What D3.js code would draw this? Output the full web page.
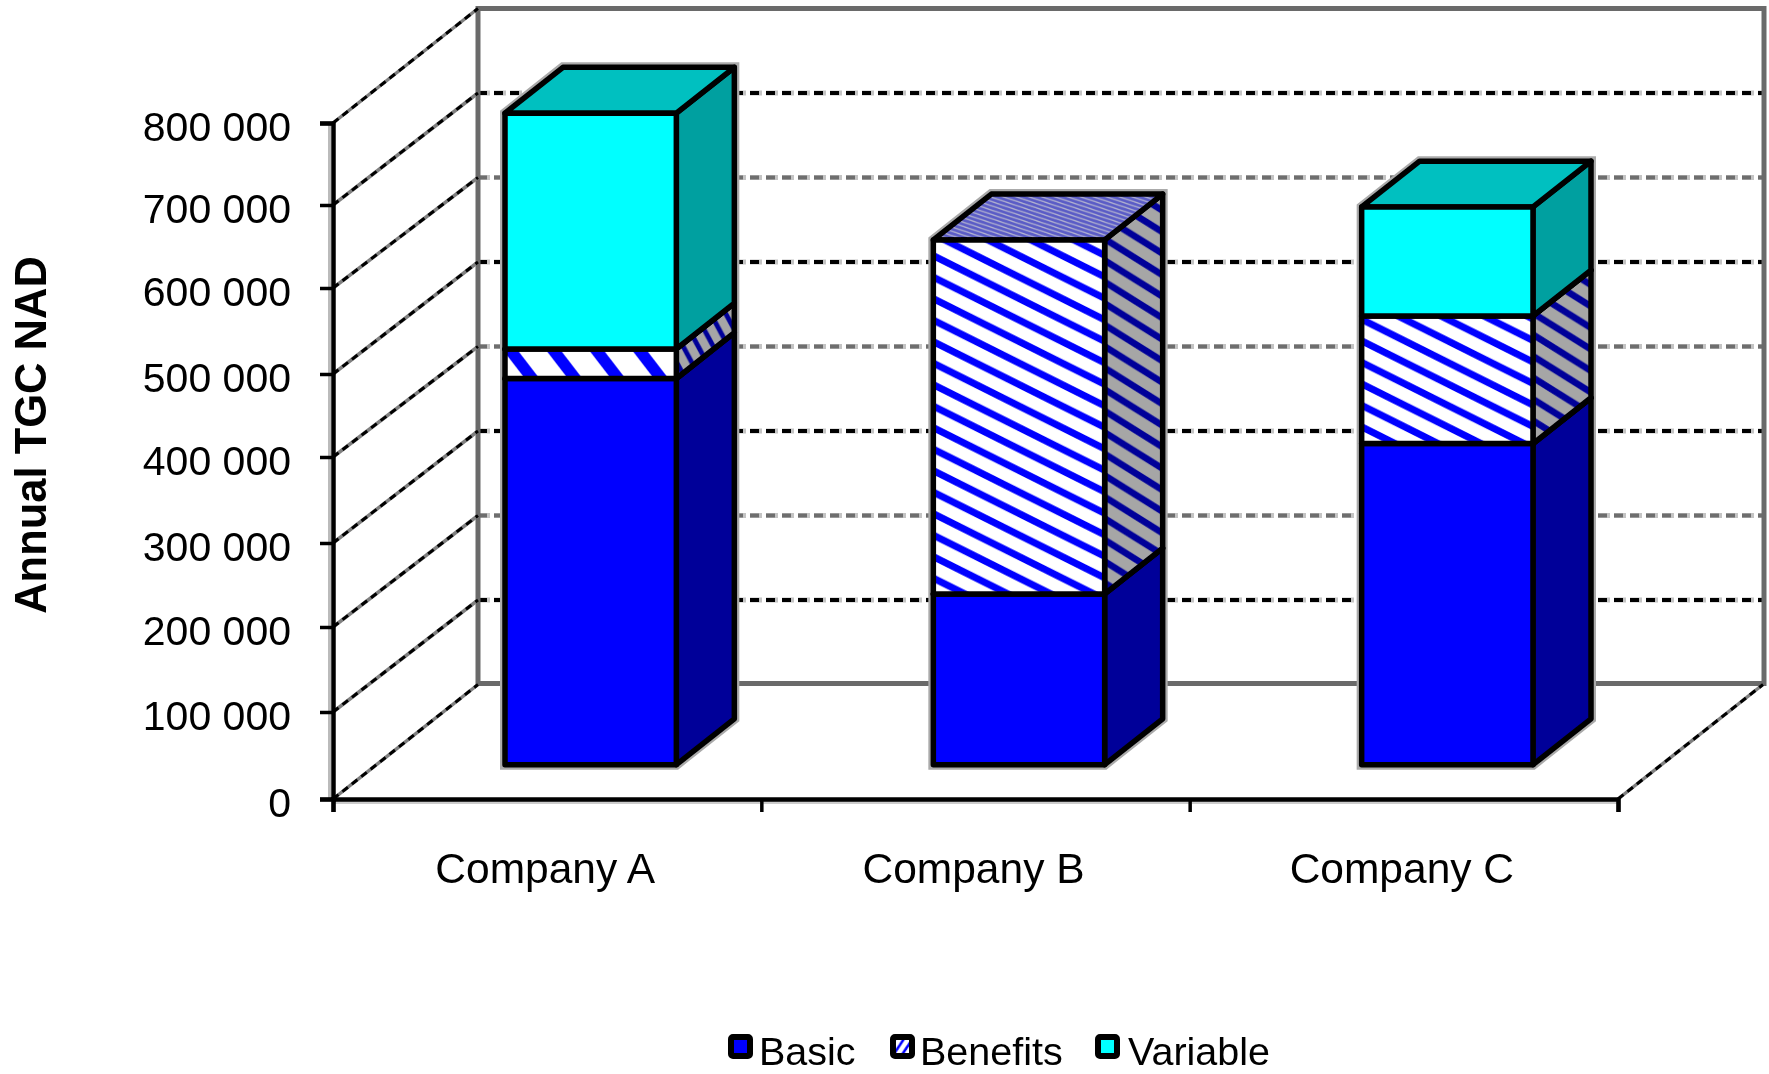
<!DOCTYPE html>
<html>
<head>
<meta charset="utf-8">
<script src="https://cdn.jsdelivr.net/npm/d3@7"></script>
<style>
  html, body { margin: 0; padding: 0; background: #fff; }
  svg { display: block; }
  text { font-family: "Liberation Sans", Arial, sans-serif; fill: #000; }
</style>
</head>
<body>
<script>
// data
var companies = ['Company A', 'Company B', 'Company C'];
var basic = [457000, 202000, 380000];
var benefits = [35000, 419000, 151000];
var variable = [279000, 0, 129000];
var seriesNames = ['Basic', 'Benefits', 'Variable'];
var yTicks = [0, 100000, 200000, 300000, 400000, 500000, 600000, 700000, 800000];

var svgWidth = 1769;
var svgHeight = 1074;
// plot area on the front plane of the box
var plot = { left: 333, right: 1618, top: 123, bottom: 799 };
// how far the back wall is pushed up and to the right
var wallDx = 145;
var wallDy = -114.5;
// bars sit between these two fractions of the depth
var barNear = 0.3;
var barFar = 0.7;
// the front axis ticks of the source are not quite evenly rounded
var tickPixels = [799, 712, 627, 543, 457, 374, 288, 205, 123];

var svg = d3.select('body')
  .append('svg')
  .attr('width', svgWidth)
  .attr('height', svgHeight);
var defs = svg.append('defs');

// the source is an upscaled bitmap, a small blur gives the same soft edges
defs.append('filter').attr('id', 'soft')
  .attr('x', 0).attr('y', 0).attr('width', 1).attr('height', 1)
  .attr('filterUnits', 'objectBoundingBox')
  .append('feGaussianBlur').attr('stdDeviation', 0.55);

var root = svg.append('g').attr('filter', 'url(#soft)');
root.append('rect').attr('width', svgWidth).attr('height', svgHeight).attr('fill', '#fff');

// scales
var x = d3.scaleBand()
  .domain(companies)
  .range([plot.left, plot.right])
  .paddingInner(0.6)
  .paddingOuter(0.3);
var y = d3.scaleLinear()
  .domain([0, 800000])
  .range([plot.bottom, plot.top]);
var yFront = d3.scaleLinear()
  .domain(yTicks)
  .range(tickPixels);
var depthX = d3.scaleLinear().domain([0, 1]).range([0, wallDx]);
var depthY = d3.scaleLinear().domain([0, 1]).range([0, wallDy]);
var edges = d3.scalePoint()
  .domain(d3.range(companies.length + 1))
  .range([plot.left, plot.right]);

// stacked values
var rows = companies.map(function (c, i) {
  return { company: c, Basic: basic[i], Benefits: benefits[i], Variable: variable[i] };
});
var stacked = d3.stack().keys(seriesNames)(rows);

// striped fills for the Benefits parts
function stripes(id, bg, stripe, sx, sy, width, tx, ty) {
  var p = defs.append('pattern')
    .attr('id', id)
    .attr('patternUnits', 'userSpaceOnUse')
    .attr('width', 43)
    .attr('height', 21.5)
    .attr('patternTransform', 'translate(' + (tx || 0) + ',' + (ty || 0) + ') scale(' + sx + ',' + sy + ')');
  p.append('rect').attr('width', 43).attr('height', 21.5).attr('fill', bg);
  [-21.5, 0, 21.5].forEach(function (k) {
    p.append('line')
      .attr('x1', -43).attr('y1', -21.5 + k)
      .attr('x2', 86).attr('y2', 43 + k)
      .attr('stroke', stripe)
      .attr('stroke-width', width);
  });
}
stripes('front0', '#fff', '#0000ff', 1, 2.6, 6.5, -17, 0);
stripes('front1', '#fff', '#0000ff', 1, 1, 7, 0, 4);
stripes('front2', '#fff', '#0000ff', 1, 1, 7, 0, 4);
stripes('side0', '#a6a6a6', '#000099', 0.35, 1.3, 7, 0, 0);
stripes('side1', '#a6a6a6', '#000099', 0.8, 1, 7, 0, 0);
stripes('side2', '#a6a6a6', '#000099', 0.8, 1, 7, 0, 0);
stripes('top1', '#5a5cc6', '#b4b4d0', 0.3, 0.2, 6, 0, 0);
stripes('legendStripes', '#fff', '#0000ff', -0.2, 0.6, 7, 0, 0);

function faceFill(name, i, face) {
  if (name === 'Basic') return face === 'front' ? '#0000ff' : face === 'side' ? '#000099' : '#0000c0';
  if (name === 'Variable') return face === 'front' ? '#00ffff' : face === 'side' ? '#00a0a0' : '#00c0c0';
  if (face === 'top') return 'url(#top' + Math.min(i, 1) + ')';
  return 'url(#' + face + i + ')';
}

// walls
var back = root.append('g').attr('class', 'walls');
var wallLeft = plot.left + wallDx;
var wallRight = plot.right + wallDx;
var wallTop = plot.top + wallDy;
var wallBottom = plot.bottom + wallDy;

// dashed grid on the back wall, strong and faint lines take turns
back.selectAll('line.under')
  .data(yTicks.slice(1))
  .enter()
  .append('line')
  .attr('class', 'under')
  .attr('x1', wallLeft).attr('x2', wallRight)
  .attr('y1', d => y(d) + wallDy).attr('y2', d => y(d) + wallDy)
  .attr('stroke', '#c4c4c4')
  .attr('stroke-width', 5)
  .attr('stroke-dasharray', '12 4');
back.selectAll('line.grid')
  .data(yTicks.slice(1))
  .enter()
  .append('line')
  .attr('class', 'grid')
  .attr('x1', wallLeft).attr('x2', wallRight)
  .attr('y1', d => y(d) + wallDy).attr('y2', d => y(d) + wallDy)
  .attr('stroke', (d, i) => i % 2 === 0 ? '#000' : '#6e6e6e')
  .attr('stroke-width', 4)
  .attr('stroke-dasharray', '9 7');

// frame of the back wall
back.append('rect')
  .attr('x', wallLeft)
  .attr('y', wallTop)
  .attr('width', wallRight - wallLeft + 1)
  .attr('height', wallBottom - wallTop - 1)
  .attr('fill', 'none')
  .attr('stroke', '#6a6a6a')
  .attr('stroke-width', 5);

// lines from the axis back to the wall
function depthLine(sel) {
  sel.attr('x1', d => d.x).attr('y1', d => d.y)
    .attr('x2', d => d.x + wallDx).attr('y2', d => d.wall);
}
var wallLines = yTicks.map(d => ({ x: plot.left, y: yFront(d), wall: y(d) + wallDy }))
  .concat([{ x: plot.right, y: plot.bottom, wall: wallBottom }]);
back.selectAll('line.depth')
  .data(wallLines)
  .enter()
  .append('line')
  .attr('class', 'depth')
  .call(depthLine)
  .attr('stroke', '#808080')
  .attr('stroke-width', 3.5);
back.selectAll('line.depthDash')
  .data(wallLines)
  .enter()
  .append('line')
  .attr('class', 'depthDash')
  .call(depthLine)
  .attr('stroke', '#000')
  .attr('stroke-width', 3)
  .attr('stroke-dasharray', '7 5');

// bars, painted bottom to top
var bars = root.append('g').attr('class', 'bars');
var nearX = depthX(barNear);
var nearY = depthY(barNear);
var sideX = depthX(barFar) - nearX;
var sideY = depthY(barFar) - nearY;

// soft grey rim round each whole bar
rows.forEach(function (r, i) {
  var x0 = x(r.company) + nearX;
  var x1 = x0 + x.bandwidth();
  var yTop = y(stacked[2][i][1]) + nearY;
  var yBase = y(0) + nearY;
  bars.append('path')
    .attr('fill', '#aaa')
    .attr('stroke', '#aaa')
    .attr('stroke-width', 10)
    .attr('stroke-linejoin', 'miter')
    .attr('d', 'M' + x0 + ',' + yBase + 'V' + yTop + 'L' + (x0 + sideX) + ',' + (yTop + sideY)
      + 'H' + (x1 + sideX) + 'V' + (yBase + sideY) + 'L' + x1 + ',' + yBase + 'Z');
});

stacked.forEach(function (series) {
  series.forEach(function (d, i) {
    if (d[1] <= d[0]) return;
    var name = series.key;
    var x0 = x(companies[i]) + nearX;
    var x1 = x0 + x.bandwidth();
    var yTop = y(d[1]) + nearY;
    var yBase = y(d[0]) + nearY;
    var g = bars.append('g')
      .attr('stroke', '#000')
      .attr('stroke-width', 5.5)
      .attr('stroke-linejoin', 'round');
    g.append('path')
      .attr('fill', faceFill(name, i, 'side'))
      .attr('d', 'M' + x1 + ',' + yTop + 'L' + (x1 + sideX) + ',' + (yTop + sideY)
        + 'V' + (yBase + sideY) + 'L' + x1 + ',' + yBase + 'Z');
    g.append('path')
      .attr('fill', faceFill(name, i, 'top'))
      .attr('d', 'M' + x0 + ',' + yTop + 'L' + (x0 + sideX) + ',' + (yTop + sideY)
        + 'H' + (x1 + sideX) + 'L' + x1 + ',' + yTop + 'Z');
    g.append('rect')
      .attr('fill', faceFill(name, i, 'front'))
      .attr('x', x0).attr('y', yTop)
      .attr('width', x1 - x0).attr('height', yBase - yTop);
  });
});

// light rim next to the axis lines
root.append('line')
  .attr('x1', plot.left - 3.5).attr('x2', plot.left - 3.5)
  .attr('y1', plot.top).attr('y2', plot.bottom + 2)
  .attr('stroke', '#bbb').attr('stroke-width', 3);
root.append('line')
  .attr('x1', plot.left).attr('x2', plot.right)
  .attr('y1', plot.bottom + 3.5).attr('y2', plot.bottom + 3.5)
  .attr('stroke', '#ccc').attr('stroke-width', 3);

// axes
var yAxis = d3.axisLeft(yFront)
  .tickValues(yTicks)
  .tickSize(13)
  .tickPadding(29)
  .tickFormat(d => d3.format(',')(d).replace(/,/g, ' '));
var gy = root.append('g')
  .attr('transform', 'translate(' + plot.left + ',0)')
  .call(yAxis);
gy.selectAll('text').attr('font-size', 41).attr('dy', '0.42em');

var gx = root.append('g')
  .attr('transform', 'translate(0,' + plot.bottom + ')')
  .call(d3.axisBottom(edges).tickSize(13).tickFormat(''));
var gl = root.append('g')
  .attr('transform', 'translate(-2,' + plot.bottom + ')')
  .call(d3.axisBottom(x).tickSize(0).tickPadding(54));
gl.select('.domain').remove();
gl.selectAll('text').attr('font-size', 42.5);
gl.selectAll('.tick line').remove();
[gx, gy].forEach(function (g) {
  g.selectAll('.domain').attr('stroke', '#000').attr('stroke-width', 4.5);
  g.selectAll('.tick line').attr('stroke', '#000').attr('stroke-width', 3.5);
});

// y title
root.append('text')
  .attr('transform', 'translate(46,435) rotate(-90)')
  .attr('text-anchor', 'middle')
  .attr('font-size', 43.5)
  .attr('font-weight', 'bold')
  .text('Annual TGC NAD');

// legend
var legendX = [728, 890, 1095];
var legendText = [31, 30, 33];
var legend = root.selectAll('g.legend')
  .data(seriesNames)
  .enter()
  .append('g')
  .attr('class', 'legend')
  .attr('transform', (d, i) => 'translate(' + legendX[i] + ',1034)');
legend.append('rect')
  .attr('x', 3).attr('y', 3)
  .attr('width', 19).attr('height', 19)
  .attr('rx', 2)
  .attr('fill', (d, i) => ['#0000ff', 'url(#legendStripes)', '#00ffff'][i])
  .attr('stroke', '#000')
  .attr('stroke-width', 6);
legend.append('text')
  .attr('x', (d, i) => legendText[i])
  .attr('y', 31)
  .attr('font-size', 39.5)
  .text(d => d);
</script>
</body>
</html>
